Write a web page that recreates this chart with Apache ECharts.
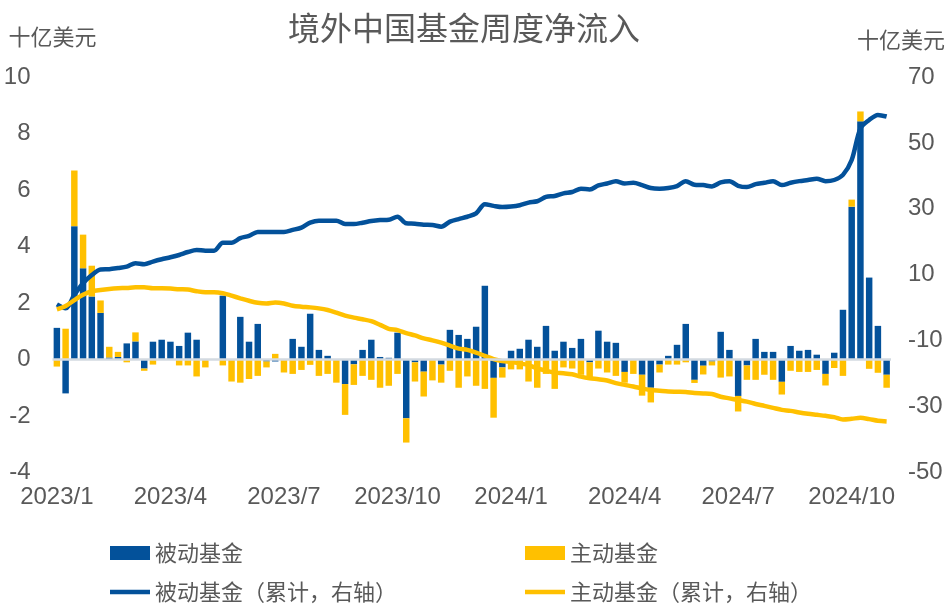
<!DOCTYPE html>
<html>
<head>
<meta charset="utf-8">
<title>境外中国基金周度净流入</title>
<script src="https://cdn.jsdelivr.net/npm/echarts@6/dist/echarts.min.js"></script>
<style>
html, body { margin: 0; padding: 0; background: #fff; }
#main { width: 951px; height: 611px; }
</style>
</head>
<body>
<div id="main"></div>
<script>
// 周度净流入，单位：十亿美元
const passive = [
  1.12, -1.2, 4.72, 3.23, 2.23, 1.65, 0.07, 0.09, 0.57, 0.64,
  -0.32, 0.63, 0.70, 0.63, 0.48, 0.95, 0.70, 0, 0, 2.26,
  0, 1.51, 0.63, 1.26, -0.07, -0.07, 0, 0.73, 0.45, 1.62,
  0.34, 0.13, 0, -0.87, -0.17, 0.34, 0.70, 0.09, 0.06, 0.95,
  -2.08, -0.10, -0.43, 0, -0.18, 1.05, 0.87, 0.73, 1.16, 2.61,
  -0.65, -0.28, 0.31, 0.38, 0.70, 0.45, 1.19, 0.31, 0.63, 0.41,
  0.73, -0.10, 1.02, 0.63, 0.59, -0.44, 0, -0.54, -1.00, -0.18,
  0.13, 0.52, 1.26, -0.72, -0.22, -0.07, 0.98, 0.34, -1.29, -0.21,
  0.73, 0.27, 0.27, -0.79, 0.48, 0.31, 0.34, 0.17, -0.51, 0.24,
  1.76, 5.41, 8.43, 2.90, 1.19, -0.54
];
const active = [
  -0.25, 1.09, 1.97, 1.19, 1.09, 0.44, 0.38, 0.18, -0.10, 0.32,
  -0.08, -0.18, 0, 0, -0.21, -0.21, -0.60, -0.28, 0, -0.21,
  -0.78, -0.82, -0.69, -0.58, -0.21, 0.20, -0.46, -0.51, -0.37, -0.19,
  -0.58, -0.51, -0.82, -1.09, -0.73, -0.58, -0.72, -1.00, -0.93, -0.51,
  -0.86, -0.68, -0.88, -0.74, -0.64, -0.40, -1.00, -0.60, -0.93, -1.04,
  -1.41, -0.36, -0.35, -0.35, -0.78, -1.00, -0.51, -1.04, -0.28, -0.32,
  -0.54, -0.55, -0.32, -0.46, -0.58, -0.38, -0.51, -0.74, -0.52, -0.28,
  -0.18, -0.18, -0.10, -0.11, -0.31, -0.14, -0.64, -0.60, -0.55, -0.51,
  -0.72, -0.54, -0.72, -0.45, -0.40, -0.44, -0.44, -0.37, -0.41, -0.30,
  -0.58, 0.25, 0.35, -0.33, -0.47, -0.46
];
// 累计（右轴）
const passiveCum = [
  1.0, -0.2, 3.9, 7.4, 9.9, 11.6, 11.7, 12.05, 12.45, 13.5,
  13.2, 14.0, 14.7, 15.3, 16.0, 16.9, 17.5, 17.3, 17.3, 19.7,
  19.7, 21.1, 21.8, 23.0, 23.0, 23.0, 23.0, 23.6, 24.3, 25.8,
  26.4, 26.4, 26.4, 25.4, 25.4, 25.8, 26.3, 26.6, 26.7, 27.6,
  25.6, 25.5, 25.2, 25.1, 24.6, 26.1, 26.9, 27.6, 28.6, 31.4,
  30.9, 30.55, 30.7, 31.1, 31.9, 32.3, 33.6, 33.9, 34.7, 35.1,
  36.1, 35.9, 37.1, 37.7, 38.4, 37.7, 37.9, 37.2, 36.3, 36.1,
  36.3, 36.9, 38.4, 37.3, 37.2, 36.8, 38.0, 38.4, 37.0, 36.6,
  37.5, 37.9, 38.4, 37.2, 37.9, 38.4, 38.75, 39.15, 38.4, 38.75,
  40.3, 44.8, 54.4, 56.95, 58.5, 58.0
];
const activeCum = [
  -0.5, 0.5, 2.3, 3.9, 5.0, 5.4, 5.7, 5.9, 6.0, 6.2,
  6.2, 5.9, 5.9, 5.8, 5.6, 5.5, 5.0, 4.7, 4.7, 4.4,
  3.65, 2.85, 2.1, 1.5, 1.3, 1.6, 1.3, 0.6, 0.3, 0.1,
  -0.2, -0.7, -1.5, -2.4, -3.0, -3.5, -4.1, -5.2, -6.4, -6.8,
  -7.7, -8.4, -9.3, -9.9, -10.6, -11.5, -12.4, -12.8, -13.6, -14.6,
  -15.6, -16.2, -16.4, -16.9, -17.4, -18.4, -19.1, -19.7, -19.9, -20.2,
  -20.9, -21.4, -21.7, -22.1, -22.9, -23.4, -23.9, -24.5, -25.0, -25.2,
  -25.4, -25.5, -25.6, -25.9, -26.0, -26.2, -27.0, -27.5, -28.0, -28.5,
  -29.2, -29.8, -30.4, -31.0, -31.3, -31.8, -32.2, -32.5, -32.8, -33.2,
  -33.9, -33.7, -33.4, -33.8, -34.3, -34.5
];
const tickIndex = [0, 13, 26, 39, 52, 65, 78, 91];
const tickLabels = ['2023/1', '2023/4', '2023/7', '2023/10', '2024/1', '2024/4', '2024/7', '2024/10'];

// 周末日期作为类目
const weeks = [];
let d = new Date(2023, 0, 6);
for (let i = 0; i < passive.length; i++) {
  weeks.push(d.getFullYear() + '/' + (d.getMonth() + 1) + '/' + d.getDate());
  d = new Date(d.getTime() + 7 * 24 * 3600 * 1000);
}

const blue = '#03519A';
const yellow = '#FFC000';
const textColor = '#595959';
const numFont = "'Liberation Sans Narrow', 'Liberation Sans', Arial, sans-serif";
const cnFont = "'Noto Sans CJK SC', sans-serif";

const chart = echarts.init(document.getElementById('main'));

function legendAt(name, left, top, isLine) {
  return {
    data: [name],
    left: left,
    top: top,
    padding: 0,
    icon: 'rect',
    itemWidth: 40,
    itemHeight: isLine ? 4.5 : 14,
    textStyle: { fontFamily: cnFont, fontSize: 22, color: textColor },
    selectedMode: false
  };
}

const option = {
  animation: false,
  title: {
    text: '境外中国基金周度净流入',
    left: 283,
    top: 7,
    textStyle: { fontFamily: cnFont, fontSize: 32, fontWeight: 'normal', color: textColor }
  },
  grid: { left: 52.5, right: 60, top: 77, bottom: 138.5 },
  legend: [
    legendAt('被动基金', 110, 542, false),
    legendAt('主动基金', 525, 542, false),
    legendAt('被动基金（累计，右轴）', 110, 581, true),
    legendAt('主动基金（累计，右轴）', 525, 581, true)
  ],
  xAxis: {
    type: 'category',
    data: weeks,
    axisLine: { show: false },
    axisTick: { show: false },
    splitLine: { show: false },
    axisLabel: {
      interval: function (idx) { return tickIndex.indexOf(idx) >= 0; },
      formatter: function (v, idx) { return tickLabels[tickIndex.indexOf(idx)]; },
      fontFamily: numFont,
      fontSize: 24,
      color: textColor,
      margin: 13
    }
  },
  yAxis: [
    {
      type: 'value',
      min: -4,
      max: 10,
      interval: 2,
      axisLine: { show: false },
      axisTick: { show: false },
      splitLine: { show: false },
      axisLabel: { fontFamily: numFont, fontSize: 24, color: textColor, margin: 22 },
      name: '十亿美元',
      nameLocation: 'end',
      nameGap: 29,
      nameTextStyle: { fontFamily: cnFont, fontSize: 22, color: textColor }
    },
    {
      type: 'value',
      position: 'right',
      min: -50,
      max: 70,
      interval: 20,
      axisLine: { show: false },
      axisTick: { show: false },
      splitLine: { show: false },
      axisLabel: { fontFamily: numFont, fontSize: 24, color: textColor, margin: 17 },
      name: '十亿美元',
      nameLocation: 'end',
      nameGap: 26,
      nameTextStyle: { fontFamily: cnFont, fontSize: 22, color: textColor, padding: [0, 0, 0, 20] }
    }
  ],
  series: [
    {
      name: '被动基金',
      type: 'bar',
      stack: 'flow',
      data: passive,
      barWidth: '74%',
      itemStyle: { color: blue },
      markLine: {
        silent: true,
        symbol: 'none',
        label: { show: false },
        lineStyle: { color: '#D3DAE1', width: 2.5, type: 'solid' },
        data: [{ yAxis: 0 }]
      }
    },
    {
      name: '主动基金',
      type: 'bar',
      stack: 'flow',
      data: active,
      barWidth: '74%',
      itemStyle: { color: yellow }
    },
    {
      name: '被动基金（累计，右轴）',
      type: 'line',
      yAxisIndex: 1,
      data: passiveCum,
      smooth: 0.3,
      symbol: 'none',
      itemStyle: { color: blue },
      lineStyle: { color: blue, width: 4.5 }
    },
    {
      name: '主动基金（累计，右轴）',
      type: 'line',
      yAxisIndex: 1,
      data: activeCum,
      smooth: 0.3,
      symbol: 'none',
      itemStyle: { color: yellow },
      lineStyle: { color: yellow, width: 4.5 }
    }
  ]
};

chart.setOption(option);
</script>
</body>
</html>
